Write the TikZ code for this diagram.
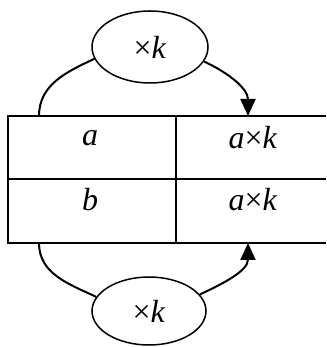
\documentclass[tikz,border=0pt]{standalone}
\usepackage{fontspec}
\setmainfont{Liberation Serif}
\usetikzlibrary{shapes.geometric,arrows.meta}
\begin{document}
\begin{tikzpicture}[x=0.5pt, y=0.5pt, grid/.style={line width=0.8pt, black}, loopline/.style={line width=1pt, black}, tip/.style={-{Triangle[length=8.5pt, width=7.5pt]}}, factor/.style={ellipse, draw, line width=0.75pt, inner sep=0pt, font=\fontsize{16}{18}\selectfont}, cell/.style={font=\fontsize{16}{18}\selectfont}]
\useasboundingbox (0,0) rectangle (326,347);
\draw[grid] (326,231) -- (8,231) -- (8,104) -- (326,104);
\draw[grid] (8,168) -- (326,168);
\draw[grid] (176,231) -- (176,104);
\node[cell] (a) at (90,209) {\textit{a}};
\node[cell] (ak) at (253,209) {\textit{a}×\textit{k}};
\node[cell] (b) at (90,147) {\textit{b}};
\node[cell] (bk) at (253,147) {\textit{a}×\textit{k}};
\node[factor, minimum width=58pt, minimum height=36pt] (topmul) at (150,300) {×\textit{k}};
\node[factor, minimum width=57pt, minimum height=34pt] (botmul) at (149,36) {×\textit{k}};
\coordinate (topin) at (39,231);
\coordinate (topout) at (248,231);
\coordinate (botin) at (39,104);
\coordinate (botout) at (248,104);
\draw[loopline] (topin) to[out=90, in=205] (topmul.192);
\draw[loopline, tip] (topmul.-15) to[out=-25, in=90] (topout);
\draw[loopline] (botin) to[out=-90, in=155] (botmul.165);
\draw[loopline, tip] (botmul.18) to[out=25, in=-90] (botout);
\end{tikzpicture}
\end{document}
